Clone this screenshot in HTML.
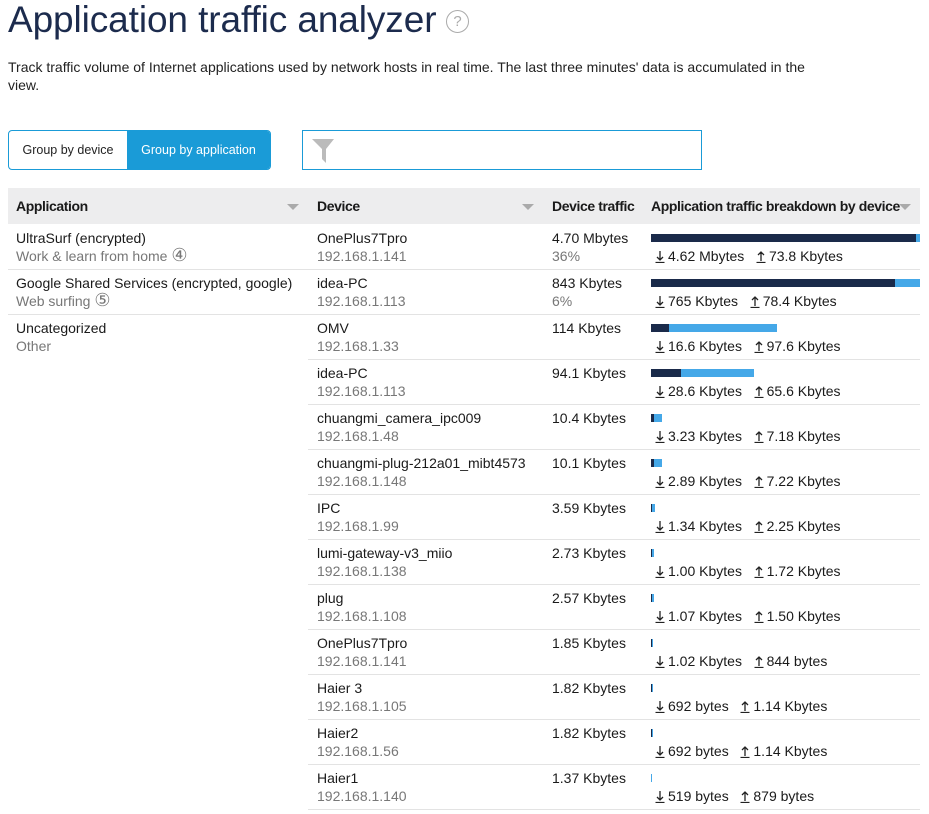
<!DOCTYPE html>
<html><head><meta charset="utf-8"><style>
body{margin:0;width:929px;height:814px;background:#fff;font-family:"Liberation Sans",sans-serif;color:#1a1a1a;position:relative;overflow:hidden}
.a{position:absolute;white-space:nowrap}
h1{position:absolute;left:8px;top:-1px;margin:0;font-weight:normal;font-size:37px;color:#1c2b4d;letter-spacing:-0.1px}
.q{position:absolute;left:446px;top:10px;width:21px;height:21px;border:1px solid #aaa;border-radius:50%;color:#aaa;font-size:15px;text-align:center;line-height:21px}
.desc{position:absolute;left:8px;top:58px;font-size:14px;line-height:18px;width:820px;color:#222}
.tog{position:absolute;left:8px;top:130px;width:261px;height:38px;border:1px solid #1a9bd7;border-radius:4px;overflow:hidden;font-size:12.5px}
.tog div{position:absolute;top:0;height:38px;line-height:38px;text-align:center}
.filt{position:absolute;left:302px;top:130px;width:398px;height:38px;border:1px solid #1a9bd7}
.hdr{position:absolute;left:8px;top:188px;width:912px;height:36px;background:#ededee;font-weight:bold;font-size:14px;letter-spacing:-0.4px}
.hdr span{position:absolute;top:10px}
.tri{position:absolute;top:16px;width:0;height:0;border-left:6px solid transparent;border-right:6px solid transparent;border-top:6px solid #aaa}
.row{position:absolute;left:308px;width:612px;height:44px;border-bottom:1px solid #e3e3e3;font-size:14px;line-height:18px}
.row .c{position:absolute;top:4px}
.g{color:#777}
.ci{font-size:18px;line-height:14px}
.bar{position:absolute;top:9px;height:8px}
.d{background:#1a2a4a}.u{background:#45a8e8}
.t{position:absolute;left:343px;top:22px}
.ar{display:inline-block;vertical-align:-2px;margin-right:3px}
</style></head><body>
<h1>Application traffic analyzer</h1><div class="q">?</div>
<div class="desc">Track traffic volume of Internet applications used by network hosts in real time. The last three minutes' data is accumulated in the view.</div>
<div class="tog"><div style="left:0;width:118px;color:#222">Group by device</div><div style="left:118px;width:143px;background:#1a9bd7;color:#fff">Group by application</div></div>
<div class="filt"><svg width="26" height="28" style="position:absolute;left:8px;top:6px"><path d="M1 2H23L15 12V26L11 22V12Z" fill="#bbb"/></svg></div>
<div class="hdr"><span style="left:8px">Application</span><div class="tri" style="left:279px"></div><span style="left:309px">Device</span><div class="tri" style="left:514px"></div><span style="left:544px;width:85px;overflow:hidden">Device traffic</span><span style="left:643px">Application traffic breakdown by device</span><div class="tri" style="left:891px"></div></div>
<div class="a" style="left:8px;top:225px;width:300px;height:44px;border-bottom:1px solid #e3e3e3;font-size:14px;line-height:18px"><div style="position:absolute;left:8px;top:4px">UltraSurf (encrypted)<br><span class="g">Work &amp; learn from home <span class="ci">④</span></span></div></div>
<div class="a" style="left:8px;top:270px;width:300px;height:44px;border-bottom:1px solid #e3e3e3;font-size:14px;line-height:18px"><div style="position:absolute;left:8px;top:4px">Google Shared Services (encrypted, google)<br><span class="g">Web surfing <span class="ci">⑤</span></span></div></div>
<div class="a" style="left:16px;top:319px;font-size:14px;line-height:18px">Uncategorized<br><span class="g">Other</span></div>
<div id="rows"></div>
<script>
var R=[["OnePlus7Tpro","192.168.1.141","4.70 Mbytes","36%",265,4,"4.62 Mbytes","73.8 Kbytes"],
["idea-PC","192.168.1.113","843 Kbytes","6%",244,25,"765 Kbytes","78.4 Kbytes"],
["OMV","192.168.1.33","114 Kbytes","",18,108,"16.6 Kbytes","97.6 Kbytes"],
["idea-PC","192.168.1.113","94.1 Kbytes","",30,73,"28.6 Kbytes","65.6 Kbytes"],
["chuangmi_camera_ipc009","192.168.1.48","10.4 Kbytes","",3,8,"3.23 Kbytes","7.18 Kbytes"],
["chuangmi-plug-212a01_mibt4573","192.168.1.148","10.1 Kbytes","",3,8,"2.89 Kbytes","7.22 Kbytes"],
["IPC","192.168.1.99","3.59 Kbytes","",1,3,"1.34 Kbytes","2.25 Kbytes"],
["lumi-gateway-v3_miio","192.168.1.138","2.73 Kbytes","",1,2,"1.00 Kbytes","1.72 Kbytes"],
["plug","192.168.1.108","2.57 Kbytes","",1,2,"1.07 Kbytes","1.50 Kbytes"],
["OnePlus7Tpro","192.168.1.141","1.85 Kbytes","",1,1,"1.02 Kbytes","844 bytes"],
["Haier 3","192.168.1.105","1.82 Kbytes","",1,1,"692 bytes","1.14 Kbytes"],
["Haier2","192.168.1.56","1.82 Kbytes","",1,1,"692 bytes","1.14 Kbytes"],
["Haier1","192.168.1.140","1.37 Kbytes","",0,1,"519 bytes","879 bytes"]];
var dn='<svg class="ar" width="10" height="13"><path d="M5 1V10M2 7L5 10L8 7M0.5 12.5H9.5" stroke="#222" stroke-width="1.3" fill="none"/></svg>';
var up='<svg class="ar" width="10" height="13"><path d="M5 11V2M2 5L5 2L8 5M0.5 12.5H9.5" stroke="#222" stroke-width="1.3" fill="none"/></svg>';
var h="";R.forEach(function(r,i){var t=225+45*i;
h+='<div class="row" style="top:'+t+'px"><div class="c" style="left:9px">'+r[0]+'<br><span class="g">'+r[1]+'</span></div><div class="c" style="left:244px">'+r[2]+'<br><span class="g">'+r[3]+'</span></div>'+
'<div class="bar d" style="left:343px;width:'+r[4]+'px"></div><div class="bar u" style="left:'+(343+r[4])+'px;width:'+r[5]+'px"></div>'+
'<div class="t" style="left:347px">'+dn+r[6]+'&nbsp;&nbsp; '+up+r[7]+'</div></div>';});
document.getElementById("rows").innerHTML=h;
</script>
</body></html>
